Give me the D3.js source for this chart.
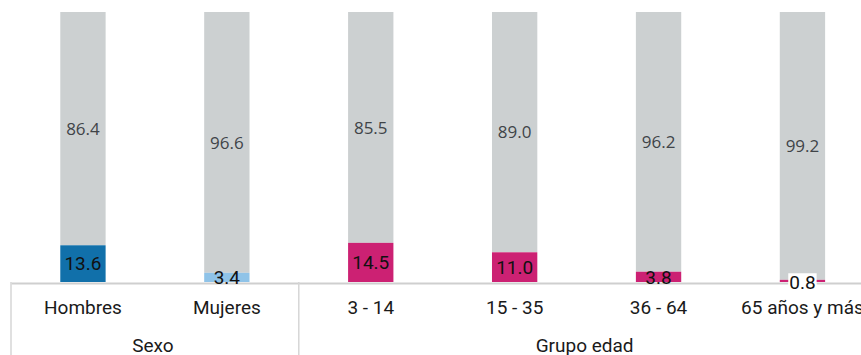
<!DOCTYPE html>
<html>
<head>
<meta charset="utf-8">
<script src="https://cdn.jsdelivr.net/npm/d3@7/dist/d3.min.js"></script>
<style>
  html, body { margin: 0; padding: 0; background: #fff; }
  svg { display: block; }
</style>
</head>
<body>
<script>
// Categories, grouped under two headings
const categories = ["Hombres", "Mujeres", "3 - 14", "15 - 35", "36 - 64", "65 años y más"];
const groups = [
  { name: "Sexo", members: ["Hombres", "Mujeres"] },
  { name: "Grupo edad", members: ["3 - 14", "15 - 35", "36 - 64", "65 años y más"] }
];
// Share (%) for the highlighted segment and the remainder
const yesValues = [13.6, 3.4, 14.5, 11.0, 3.8, 0.8];
const noValues  = [86.4, 96.6, 85.5, 89.0, 96.2, 99.2];
const yesColors = ["#1170aa", "#8fc3e8", "#cc2173", "#cc2173", "#cc2173", "#cc2173"];
const restColor = "#ccd0d1";

const W = 861, H = 355;
const svg = d3.select("body").append("svg").attr("width", W).attr("height", H);

const x = d3.scaleBand().domain(categories).range([11, 11 + 6 * 143.9]).paddingInner(0.685).paddingOuter(0.3425);
const y = d3.scaleLinear().domain([0, 100]).range([282, 12]);

const rows = categories.map((c, i) => ({ c, yes: yesValues[i], no: noValues[i], color: yesColors[i] }));

// Remainder segments (stacked above the highlighted share)
svg.append("g").selectAll("rect").data(rows).join("rect")
  .attr("x", d => x(d.c))
  .attr("width", x.bandwidth())
  .attr("y", d => y(d.yes + d.no))
  .attr("height", d => y(d.yes) - y(d.yes + d.no))
  .attr("fill", restColor);

// Highlighted segments
svg.append("g").selectAll("rect").data(rows).join("rect")
  .attr("x", d => x(d.c))
  .attr("width", x.bandwidth())
  .attr("y", d => y(d.yes))
  .attr("height", d => y(0) - y(d.yes))
  .attr("fill", d => d.color);

// Remainder value labels
svg.append("g").selectAll("text").data(rows).join("text")
  .attr("x", d => x(d.c) + x.bandwidth() / 2)
  .attr("y", d => (y(d.yes + d.no) + y(d.yes)) / 2)
  .attr("dy", "0.36em")
  .attr("text-anchor", "middle")
  .attr("font-family", "'Open Sans', sans-serif")
  .attr("font-size", 17)
  .attr("fill", "#404448")
  .text(d => d3.format(".1f")(d.no));

// Axis: baseline and category labels
const axis = svg.append("g").attr("transform", `translate(0,${y(0) + 1})`)
  .call(d3.axisBottom(x).tickSize(0).tickPadding(18));
axis.select(".domain").attr("stroke", "#cfcfcf").attr("stroke-width", 2);
axis.selectAll(".tick text")
  .attr("font-family", "Roboto, sans-serif")
  .attr("font-size", 19)
  .attr("fill", "#1a1a1a");

// Highlighted value labels, centred on their segment;
// labels too tall for a tiny segment sit on a white backing box
const yesLabels = svg.append("g").selectAll("g").data(rows).join("g");
yesLabels.append("text")
  .attr("x", d => x(d.c) + x.bandwidth() / 2)
  .attr("y", d => (y(0) + y(d.yes)) / 2 + (d.yes < 2 ? 1.5 : 0))
  .attr("dy", "0.36em")
  .attr("text-anchor", "middle")
  .attr("font-family", "Roboto, sans-serif")
  .attr("font-size", 19)
  .attr("fill", "#111")
  .text(d => d3.format(".1f")(d.yes));
yesLabels.filter(d => d.yes < 2).each(function() {
  const t = d3.select(this).select("text");
  const b = t.node().getBBox();
  d3.select(this).insert("rect", "text")
    .attr("x", b.x - 1).attr("y", b.y + 2)
    .attr("width", b.width + 2).attr("height", b.height - 2)
    .attr("fill", "#fff");
});

// Group separators and group labels
const step = x.step();
const left0 = x.range()[0];
let idx = 0;
groups.forEach(g => {
  const start = left0 + idx * step;
  const end = start + g.members.length * step;
  svg.append("line")
    .attr("x1", start).attr("x2", start)
    .attr("y1", y(0)).attr("y2", H)
    .attr("stroke", "#d6d6d6").attr("stroke-width", 1.5);
  svg.append("text")
    .attr("x", (start + end) / 2 - 2)
    .attr("y", 352)
    .attr("text-anchor", "middle")
    .attr("font-family", "Roboto, sans-serif")
    .attr("font-size", 19)
    .attr("fill", "#1a1a1a")
    .text(g.name);
  idx += g.members.length;
});
</script>
</body>
</html>
